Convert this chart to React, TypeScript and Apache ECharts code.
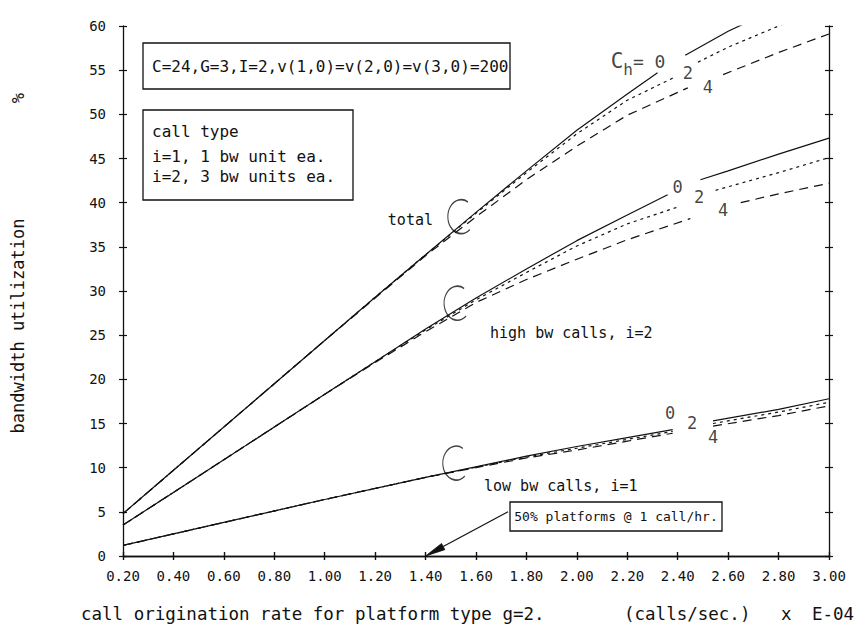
import React, { useEffect, useRef } from "react";
import * as echarts from "echarts";

const MONO = "DejaVu Sans Mono";
const INK = "#111";

const X_MIN = 0.2;
const X_MAX = 3.0;
const X_STEP = 0.2;
const Y_MIN = 0;
const Y_MAX = 60;
const Y_STEP = 5;

type Pt = [number, number | null];

// total bandwidth utilization, Ch = 0, 2, 4 (null = gap left for the label)
const totalCh0: Pt[] = [
  [0.2, 4.8], [0.4, 9.7], [0.6, 14.6], [0.8, 19.5], [1.0, 24.4], [1.2, 29.3],
  [1.4, 34.1], [1.6, 38.9], [1.8, 43.6], [2.0, 48.2], [2.2, 52.3], [2.32, 54.7],
  [2.38, null], [2.43, 56.7], [2.6, 59.4], [2.8, 62.1],
];
const totalCh2: Pt[] = [
  [0.2, 4.8], [0.4, 9.7], [0.6, 14.6], [0.8, 19.5], [1.0, 24.4], [1.2, 29.3],
  [1.4, 34.1], [1.6, 38.8], [1.8, 43.4], [2.0, 47.8], [2.2, 51.6], [2.38, 54.1],
  [2.43, null], [2.48, 55.9], [2.6, 57.6], [2.8, 60.0], [3.0, 62.4],
];
const totalCh4: Pt[] = [
  [0.2, 4.8], [0.4, 9.7], [0.6, 14.6], [0.8, 19.5], [1.0, 24.4], [1.2, 29.2],
  [1.4, 34.0], [1.6, 38.4], [1.8, 42.6], [2.0, 46.4], [2.2, 49.9], [2.44, 53.0],
  [2.51, null], [2.58, 54.5], [2.8, 57.0], [3.0, 59.1],
];

// high bw calls, i=2
const highCh0: Pt[] = [
  [0.2, 3.5], [0.4, 7.2], [0.6, 10.9], [0.8, 14.6], [1.0, 18.3], [1.2, 22.0],
  [1.4, 25.7], [1.6, 29.2], [1.8, 32.5], [2.0, 35.7], [2.2, 38.6], [2.36, 40.9],
  [2.42, null], [2.49, 42.6], [2.6, 43.6], [2.8, 45.5], [3.0, 47.3],
];
const highCh2: Pt[] = [
  [0.2, 3.5], [0.4, 7.2], [0.6, 10.9], [0.8, 14.6], [1.0, 18.3], [1.2, 22.0],
  [1.4, 25.6], [1.6, 29.0], [1.8, 32.1], [2.0, 35.1], [2.2, 37.6], [2.41, 39.6],
  [2.48, null], [2.55, 41.4], [2.8, 43.4], [3.0, 45.1],
];
const highCh4: Pt[] = [
  [0.2, 3.5], [0.4, 7.2], [0.6, 10.9], [0.8, 14.6], [1.0, 18.3], [1.2, 21.9],
  [1.4, 25.4], [1.6, 28.7], [1.8, 31.3], [2.0, 33.6], [2.2, 35.8], [2.45, 38.2],
  [2.55, null], [2.65, 40.0], [2.8, 41.0], [3.0, 42.2],
];

// low bw calls, i=1
const lowCh0: Pt[] = [
  [0.2, 1.2], [0.6, 3.8], [1.0, 6.4], [1.4, 8.9], [1.8, 11.3], [2.0, 12.4],
  [2.2, 13.4], [2.38, 14.3], [2.46, null], [2.54, 15.3], [2.8, 16.6], [3.0, 17.8],
];
const lowCh2: Pt[] = [
  [0.2, 1.2], [0.6, 3.8], [1.0, 6.4], [1.4, 8.9], [1.8, 11.2], [2.0, 12.2],
  [2.2, 13.2], [2.38, 14.1], [2.46, null], [2.54, 15.0], [2.8, 16.3], [3.0, 17.4],
];
const lowCh4: Pt[] = [
  [0.2, 1.2], [0.6, 3.8], [1.0, 6.4], [1.4, 8.9], [1.8, 11.1], [2.0, 12.0],
  [2.2, 13.0], [2.38, 13.9], [2.46, null], [2.54, 14.7], [2.8, 15.9], [3.0, 17.0],
];

// curve labels (Ch values) placed in data coordinates
const curveLabels: [number, number, string][] = [
  [2.44, 54.7, "2"], [2.52, 53.1, "4"],
  [2.40, 41.8, "0"], [2.485, 40.6, "2"], [2.58, 39.2, "4"],
  [2.37, 16.2, "0"], [2.457, 15.1, "2"], [2.54, 13.5, "4"],
];
const chLabelAt: [number, number] = [2.132, 56.0];
const bracketsAt: [number, number][] = [[1.52, 37.4], [1.505, 27.6], [1.5, 9.5]];
const arrowFrom: [number, number] = [1.727, 5.0];
const arrowTo: [number, number] = [1.4, 0];

const paramText = "C=24,G=3,I=2,v(1,0)=v(2,0)=v(3,0)=200";
const legendLines = ["call type", "i=1, 1 bw unit ea.", "i=2, 3 bw units ea."];
const platformNote = "50% platforms @ 1 call/hr.";

const lineSeries = (data: Pt[], dash: any) => ({
  type: "line",
  data: data.map(([x, y]) => [x, y === null ? "-" : y]),
  symbol: "none",
  showSymbol: false,
  connectNulls: false,
  clip: true,
  silent: true,
  lineStyle: { color: INK, width: 1.2, type: dash },
});

const SOLID = "solid";
const SHORT: number[] = [3, 4];
const LONG: number[] = [9, 6];

export default function App() {
  const ref = useRef<HTMLDivElement>(null);
  useEffect(() => {
    if (!ref.current) return;
    const chart = echarts.init(ref.current, null, { renderer: "svg" });
    const axisCommon = {
      type: "value",
      splitLine: { show: false },
    };
    const xBase = { ...axisCommon, min: X_MIN, max: X_MAX, interval: X_STEP };
    const yBase = { ...axisCommon, min: Y_MIN, max: Y_MAX, interval: Y_STEP };
    const line = { show: true, lineStyle: { color: INK, width: 1.3 } };
    const tick = (inside: boolean) => ({ show: true, inside, length: 4, lineStyle: { color: INK, width: 1.2 } });

    const graphics: any[] = [
      { id: "b1", type: "rect", shape: { x: 143, y: 43, width: 367, height: 46 }, style: { fill: "#fff", stroke: INK, lineWidth: 1.3 } },
      { id: "t1", type: "text", x: 152, y: 66, style: { text: paramText, font: `16px "${MONO}"`, fill: INK, verticalAlign: "middle" } },
      { id: "b2", type: "rect", shape: { x: 143, y: 110, width: 210, height: 90 }, style: { fill: "#fff", stroke: INK, lineWidth: 1.3 } },
      { id: "t2", type: "text", x: 152, y: 131, style: { text: legendLines[0], font: `16px "${MONO}"`, fill: INK, verticalAlign: "middle" } },
      { id: "t3", type: "text", x: 152, y: 156, style: { text: legendLines[1], font: `16px "${MONO}"`, fill: INK, verticalAlign: "middle" } },
      { id: "t4", type: "text", x: 152, y: 176, style: { text: legendLines[2], font: `16px "${MONO}"`, fill: INK, verticalAlign: "middle" } },
      { id: "t5", type: "text", x: 433, y: 220, style: { text: "total", font: `15px "${MONO}"`, fill: INK, align: "right", verticalAlign: "middle" } },
      { id: "t6", type: "text", x: 490, y: 333, style: { text: "high bw calls, i=2", font: `15px "${MONO}"`, fill: INK, verticalAlign: "middle" } },
      { id: "t7", type: "text", x: 484, y: 486, style: { text: "low bw calls, i=1", font: `15px "${MONO}"`, fill: INK, verticalAlign: "middle" } },
      { id: "b3", type: "rect", shape: { x: 510, y: 502, width: 212, height: 29 }, style: { fill: "#fff", stroke: INK, lineWidth: 1.3 } },
      { id: "t8", type: "text", x: 616, y: 516.5, style: { text: platformNote, font: `13px "${MONO}"`, fill: INK, align: "center", verticalAlign: "middle" } },
      { id: "t9", type: "text", x: 18, y: 326, rotation: Math.PI / 2, style: { text: "bandwidth utilization", font: `17px "${MONO}"`, fill: INK, align: "center", verticalAlign: "middle" } },
      { id: "t10", type: "text", x: 18, y: 98, rotation: Math.PI / 2, style: { text: "%", font: `17px "${MONO}"`, fill: INK, align: "center", verticalAlign: "middle" } },
      { id: "t11", type: "text", x: 81, y: 614, style: { text: "call origination rate for platform type g=2.", font: `17.5px "${MONO}"`, fill: INK, verticalAlign: "middle" } },
      { id: "t12", type: "text", x: 624, y: 614, style: { text: "(calls/sec.)", font: `17.5px "${MONO}"`, fill: INK, verticalAlign: "middle" } },
      { id: "t13", type: "text", x: 781, y: 614, style: { text: "x", font: `17.5px "${MONO}"`, fill: INK, verticalAlign: "middle" } },
      { id: "t14", type: "text", x: 812, y: 614, style: { text: "E-04", font: `17.5px "${MONO}"`, fill: INK, verticalAlign: "middle" } },
    ];

    const option: any = {
      animation: false,
      backgroundColor: "#fff",
      grid: { left: 123, right: 26, top: 26, bottom: 74, containLabel: false },
      xAxis: [
        {
          ...xBase, position: "bottom", axisLine: line, axisTick: tick(false),
          axisLabel: {
            show: true, margin: 13, color: INK, fontFamily: MONO, fontSize: 14,
            formatter: (v: number) => v.toFixed(2),
          },
        },
        { ...xBase, position: "bottom", axisLine: { show: false }, axisTick: tick(true), axisLabel: { show: false } },
        { ...xBase, position: "top", axisLine: line, axisTick: tick(false), axisLabel: { show: false } },
        { ...xBase, position: "top", axisLine: { show: false }, axisTick: tick(true), axisLabel: { show: false } },
      ],
      yAxis: [
        {
          ...yBase, position: "left", axisLine: line, axisTick: tick(false),
          axisLabel: { show: true, margin: 17, color: INK, fontFamily: MONO, fontSize: 14 },
        },
        { ...yBase, position: "left", axisLine: { show: false }, axisTick: tick(true), axisLabel: { show: false } },
        { ...yBase, position: "right", axisLine: line, axisTick: tick(false), axisLabel: { show: false } },
        { ...yBase, position: "right", axisLine: { show: false }, axisTick: tick(true), axisLabel: { show: false } },
      ],
      series: [
        lineSeries(totalCh0, SOLID),
        lineSeries(totalCh2, SHORT),
        lineSeries(totalCh4, LONG),
        lineSeries(highCh0, SOLID),
        lineSeries(highCh2, SHORT),
        lineSeries(highCh4, LONG),
        lineSeries(lowCh0, SOLID),
        lineSeries(lowCh2, SHORT),
        lineSeries(lowCh4, LONG),
        {
          type: "scatter",
          silent: true,
          symbolSize: 1,
          itemStyle: { color: "rgba(0,0,0,0)" },
          label: { show: true, position: "inside", fontFamily: MONO, fontSize: 17, color: INK },
          data: curveLabels.map(([x, y, t]) => ({ value: [x, y], label: { formatter: t } })),
        },
        {
          type: "scatter",
          silent: true,
          symbolSize: 1,
          itemStyle: { color: "rgba(0,0,0,0)" },
          label: {
            show: true,
            position: "right",
            distance: 0,
            formatter: "{c|C}{h|h}{e|= 0}",
            rich: {
              c: { fontFamily: MONO, fontSize: 21, color: INK },
              h: { fontFamily: MONO, fontSize: 16, color: INK, padding: [16, 0, 0, 0] },
              e: { fontFamily: MONO, fontSize: 18, color: INK },
            },
          },
          data: [chLabelAt],
        },
        {
          type: "scatter",
          silent: true,
          symbol: "path://M21,1.9 A14,14 0 1 0 23,24.7",
          symbolSize: [22, 34],
          symbolOffset: [3, -9],
          itemStyle: { color: "rgba(0,0,0,0)", borderColor: INK, borderWidth: 1.3 },
          data: bracketsAt,
        },
      ],
      graphic: graphics,
    };
    chart.setOption(option);

    // arrow from the note box down to x = 1.40 on the axis, positioned through the axis scales
    const p0 = chart.convertToPixel({ gridIndex: 0 }, arrowFrom) as number[];
    const p1 = chart.convertToPixel({ gridIndex: 0 }, arrowTo) as number[];
    if (p0 && p1) {
      const dx = p1[0] - p0[0];
      const dy = p1[1] - p0[1];
      const len = Math.sqrt(dx * dx + dy * dy) || 1;
      const ux = dx / len;
      const uy = dy / len;
      const headLen = 20;
      const headHalf = 3.5;
      const bx = p1[0] - ux * headLen;
      const by = p1[1] - uy * headLen;
      chart.setOption({
        graphic: [
          ...graphics,
          {
            id: "arrowLine", type: "line",
            shape: { x1: p0[0], y1: p0[1], x2: bx, y2: by },
            style: { stroke: INK, lineWidth: 1.2 },
          },
          {
            id: "arrowHead", type: "polygon",
            shape: {
              points: [
                [p1[0], p1[1]],
                [bx - uy * headHalf, by + ux * headHalf],
                [bx + uy * headHalf, by - ux * headHalf],
              ],
            },
            style: { fill: INK, stroke: INK, lineWidth: 0.8 },
          },
        ],
      });
    }
    return () => chart.dispose();
  }, []);
  return (
    <div
      ref={ref}
      style={{ position: "absolute", left: 0, top: 0, width: 855, height: 630, background: "#fff" }}
    />
  );
}
